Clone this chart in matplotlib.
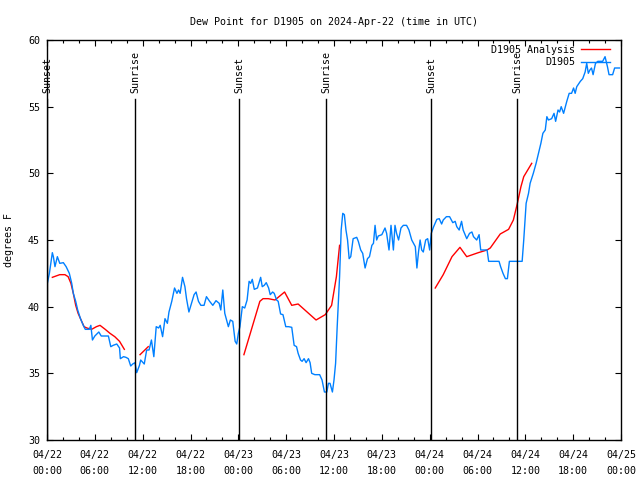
import numpy as np
import pandas as pd
import matplotlib
matplotlib.use("Agg")
import matplotlib.pyplot as plt
import matplotlib.dates as mdates

# hours after 2024-04-22 00:00 UTC
obs_hours = [0.04, 0.3, 0.67, 0.8, 1.0, 1.3, 1.6, 2.05, 2.4, 2.8, 3.1, 3.3, 3.6, 3.85, 4.2,
             4.55, 4.8, 5.3, 5.5, 5.7, 6.0, 6.5, 6.8, 7.7, 8.0, 8.3, 8.75, 9.1, 9.2, 9.6,
             9.9, 10.2, 10.5, 10.75, 11.04, 11.25, 11.6, 11.75, 12.2, 12.5, 12.8, 13.1, 13.4,
             13.7, 14.0, 14.2, 14.5, 14.8, 15.1, 15.3, 15.65, 16.0, 16.3, 16.5, 16.7, 17.0,
             17.3, 17.5, 17.8, 18.2, 18.45, 18.7, 19.0, 19.3, 19.7, 20.0, 20.4, 20.8, 21.2,
             21.6, 21.8, 22.05, 22.3, 22.75, 23.0, 23.3, 23.6, 23.8, 24.0, 24.2, 24.5, 24.8,
             25.1, 25.35, 25.55, 25.75, 26.0, 26.4, 26.8, 27.0, 27.25, 27.5, 27.8, 28.0, 28.3,
             28.5, 28.8, 29.0, 29.3, 29.6, 29.95, 30.3, 30.7, 31.0, 31.3, 31.5, 31.8, 32.0,
             32.25, 32.5, 32.8, 33.0, 33.2, 33.6, 34.2, 34.5, 34.8, 35.1, 35.3, 35.5, 35.8,
             36.0, 36.2, 36.4, 36.7, 36.9, 37.1, 37.3, 37.5, 37.7, 37.9, 38.1, 38.4, 38.85,
             39.05, 39.35, 39.6, 39.9, 40.2, 40.45, 40.75, 40.95, 41.15, 41.35, 41.55, 42.0,
             42.4, 42.6, 42.9, 43.15, 43.45, 43.65, 43.85, 44.1, 44.4, 44.7, 45.1, 45.4, 45.75,
             46.2, 46.4, 46.6, 46.8, 47.0, 47.2, 47.5, 47.75, 48.0, 48.2, 48.5, 48.9, 49.2,
             49.5, 49.7, 50.1, 50.5, 50.9, 51.2, 51.4, 51.7, 52.0, 52.2, 52.65, 53.0, 53.3,
             53.5, 53.9, 54.2, 54.4, 55.2, 55.4, 56.7, 56.9, 57.2, 57.5, 57.75, 58.0, 59.6,
             59.8, 60.1, 60.4, 60.6, 61.0, 61.35, 61.65, 61.95, 62.2, 62.5, 62.7, 62.9, 63.3,
             63.6, 63.8, 64.1, 64.3, 64.5, 64.8, 65.2, 65.5, 65.8, 66.05, 66.25, 66.45, 66.9,
             67.2, 67.5, 67.7, 67.9, 68.1, 68.3, 68.5, 68.8, 69.1, 69.7, 70.0, 70.3, 70.5,
             70.95, 71.2, 71.8]
obs_dewpt = [41.75, 42.5, 44.05, 43.75, 43.0, 43.75, 43.25, 43.3, 43.0, 42.5, 41.75, 41.0, 40.4,
             39.75, 39.1, 38.6, 38.3, 38.3, 38.6, 37.5, 37.8, 38.1, 37.8, 37.8, 37.0, 37.1,
             37.2, 36.9, 36.1, 36.25, 36.2, 36.1, 35.55, 35.7, 35.8, 35.05, 35.6, 36.0, 35.7,
             36.75, 36.75, 37.5, 36.25, 38.5, 38.4, 38.6, 37.75, 39.1, 38.75, 39.6, 40.4, 41.4,
             41.0, 41.25, 41.0, 42.2, 41.5, 40.6, 39.6, 40.4, 40.9, 41.1, 40.4, 40.1, 40.1,
             40.75, 40.4, 40.1, 40.45, 40.25, 39.75, 41.25, 39.5, 38.5, 39.0, 38.9, 37.4, 37.2,
             38.0, 38.5, 40.0, 39.9, 40.5, 41.9, 41.75, 42.05, 41.3, 41.4, 42.2, 41.5, 41.6,
             41.8, 41.4, 40.9, 41.1, 41.0, 40.5, 40.4, 39.45, 39.4, 38.5, 38.5, 38.45, 37.1,
             37.0, 36.5, 36.0, 35.9, 36.1, 35.8, 36.1, 35.8, 35.0, 34.9, 34.9, 34.5, 33.6, 33.6,
             34.25, 34.25, 33.6, 34.5, 35.75, 38.5, 42.25, 45.75, 47.0, 46.9, 45.75, 45.0, 43.6,
             43.75, 45.1, 45.2, 44.9, 44.25, 44.0, 42.9, 43.6, 43.75, 44.6, 44.75, 46.1, 45.0,
             45.3, 45.4, 45.9, 45.5, 44.25, 46.1, 44.25, 46.1, 45.5, 45.0, 45.9, 46.1, 46.1,
             45.75, 45.0, 44.5, 42.9, 44.1, 45.0, 44.25, 44.1, 45.0, 45.1, 44.25, 45.5, 46.0,
             46.55, 46.6, 46.2, 46.5, 46.75, 46.75, 46.3, 46.4, 46.0, 45.75, 46.4, 45.75, 45.1,
             45.5, 45.6, 45.25, 45.0, 45.4, 44.25, 44.25, 43.4, 43.4, 43.0, 42.5, 42.1, 42.1,
             43.4, 43.4, 45.0, 47.75, 48.5, 49.25, 50.0, 50.75, 51.5, 52.25, 53.0, 53.25, 54.25,
             54.0, 54.1, 54.5, 53.9, 54.75, 54.6, 55.0, 54.5, 55.4, 56.0, 56.0, 56.4, 56.0,
             56.5, 56.9, 57.1, 57.6, 58.25, 57.5, 57.75, 57.9, 57.4, 58.25, 58.4, 58.4, 58.75,
             58.0, 57.4, 57.4, 57.9, 57.9]

# analysis series, NaN marks gaps
ana_hours = [0.67, 1.6, 2.25, 2.65, 3.0, 3.3, 3.6, 3.9, 4.2, 4.65, 5.0, 5.6, 6.2, 6.65, 7.3,
             7.9, 8.5, 9.1, 9.7, 10.0,
             11.67, 12.7, 13.0,
             24.7, 26.7, 27.1, 27.75, 28.6, 29.8, 30.7, 31.5, 33.75, 34.9, 35.7, 36.3, 36.7, 37.0,
             48.7, 49.7, 50.8, 51.8, 52.65, 54.1, 55.2, 55.6, 56.85, 57.9, 58.5, 59.0, 59.45,
             59.8, 60.3, 60.8]
ana_dewpt = [42.2, 42.4, 42.4, 42.25, 41.75, 41.0, 40.1, 39.5, 39.1, 38.5, 38.4, 38.3, 38.5,
             38.6, 38.3, 38.0, 37.75, 37.4, 36.8, np.nan,
             36.4, 37.0, np.nan,
             36.4, 40.4, 40.6, 40.6, 40.5, 41.1, 40.1, 40.2, 39.0, 39.4, 40.1, 42.25, 44.6, np.nan,
             41.4, 42.4, 43.75, 44.45, 43.75, 44.05, 44.25, 44.4, 45.45, 45.8, 46.5, 47.75,
             49.0, 49.75, 50.25, 50.75]

sun_hours = [0.05, 11.04, 24.08, 35.0, 48.17, 58.96]
sun_labels = ["Sunset", "Sunrise", "Sunset", "Sunrise", "Sunset", "Sunrise"]

start = pd.Timestamp("2024-04-22 00:00")
def to_time(h):
    return start + pd.to_timedelta(np.asarray(h, dtype=float), unit="h")

plt.rcParams['font.family'] = ['DejaVu Sans Mono']
fs = 7.2

fig = plt.figure(figsize=(6.4, 4.8), dpi=100)
ax = fig.add_axes([47/640, 40/480, 574/640, 400/480])

ax.plot(to_time(ana_hours), ana_dewpt, color='#ff0000', lw=1.0, label='D1905 Analysis')
ax.plot(to_time(obs_hours), obs_dewpt, color='#0080ff', lw=1.0, label='D1905')

trans = ax.get_xaxis_transform()
for h, lab in zip(sun_hours, sun_labels):
    t = to_time([h])[0]
    ax.plot([t, t], [0, 0.8525], color='black', lw=1.0, transform=trans)
    ax.text(t, 0.868, lab, rotation=90, ha='center', va='bottom', fontsize=fs, transform=trans)

ax.set_xlim(start, start + pd.Timedelta(hours=72))
ax.set_ylim(30, 60)
ax.set_yticks(np.arange(30, 61, 5))
ax.xaxis.set_major_locator(mdates.HourLocator(byhour=[0, 6, 12, 18]))
ax.xaxis.set_minor_locator(mdates.HourLocator(byhour=range(0, 24, 2)))
ax.xaxis.set_major_formatter(mdates.DateFormatter('%m/%d\n%H:%M'))
ax.tick_params(which='both', direction='in', top=True, right=True, labelsize=fs, width=0.8)
ax.tick_params(which='major', length=4.5)
ax.tick_params(axis='x', which='major', pad=7)
ax.tick_params(axis='y', which='major', pad=5)
ax.tick_params(which='minor', length=2.5)
for sp in ax.spines.values():
    sp.set_linewidth(1.0)

ax.set_ylabel('degrees F', fontsize=fs, labelpad=10)
ax.set_title('Dew Point for D1905 on 2024-Apr-22 (time in UTC)', fontsize=fs, pad=11)

ax.legend(loc='upper right', markerfirst=False, frameon=False, fontsize=fs,
          handlelength=2.9, handletextpad=0.6, labelspacing=0.25,
          borderaxespad=0.0, borderpad=0.0, bbox_to_anchor=(1 - 11/574, 1 - 5/400))

fig.canvas.draw()
for lbl in ax.get_xticklabels():
    lbl.set_linespacing(1.75)

fig.savefig('out.png', dpi=100)
